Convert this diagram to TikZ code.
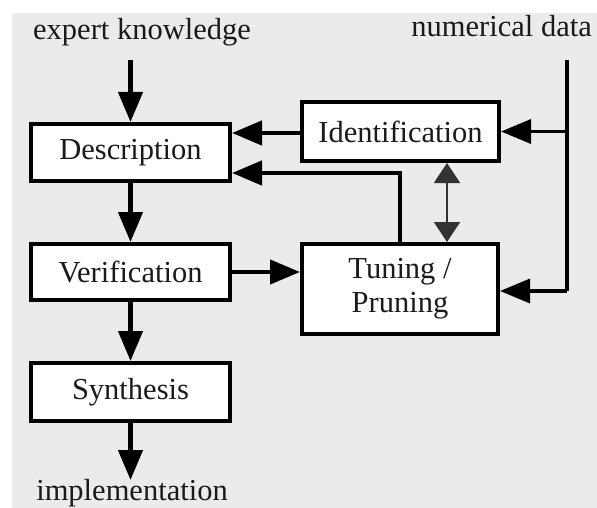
\documentclass[tikz,border=0pt]{standalone}
\usepackage{fontspec}
\setmainfont{Liberation Serif}
\usetikzlibrary{arrows.meta,calc}
\definecolor{bg}{HTML}{EBEBEB}
\definecolor{ink}{HTML}{1A1A1A}
\begin{document}
\begin{tikzpicture}[x=1pt,y=-1pt,
  box/.style={draw=black,line width=4pt,fill=white,text=ink,align=center,
    font=\fontsize{30.5}{34}\selectfont,inner sep=0pt},
  lbl/.style={text=ink,font=\fontsize{30.5}{34}\selectfont,inner sep=0pt},
  conn/.style={line width=4.5pt,draw=black,-{Triangle[length=30pt,width=24pt]}},
  thin/.style={line width=3.5pt,draw=black},
  dbl/.style={line width=2pt,draw=black!80,{Triangle[length=20pt,width=26pt]}-{Triangle[length=20pt,width=26pt]}}]
\useasboundingbox (0,0) rectangle (597,508);
\fill[white] (0,0) rectangle (597,508);
\fill[bg] (12,13) rectangle (597,508);

\node[box,minimum width=199pt,minimum height=57pt] (desc) at (130.5,152.5) {Description};
\node[box,minimum width=199pt,minimum height=56pt] (veri) at (130.5,272) {Verification};
\node[box,minimum width=199pt,minimum height=58pt] (synt) at (130.5,392) {Synthesis};
\node[box,minimum width=197pt,minimum height=59pt] (iden) at (400.5,131.5) {Identification};
\node[box,minimum width=196pt,minimum height=90pt] (tune) at (400,289) {Tuning /\\Pruning};

\node[lbl,anchor=base] (ek) at (142,40) {expert knowledge};
\node[lbl,anchor=base east] (nd) at (592,37) {numerical data};
\node[lbl,anchor=base] (impl) at (132,500) {implementation};

\coordinate (ekstart) at (130.5,60);
\coordinate (ndstart) at (567,60);
\coordinate (implend) at (130.5,480);
\coordinate (fb) at (0,173);
\coordinate (dx) at (447,0);

\draw[conn] (ekstart) -- (desc.north);
\draw[conn] (desc.south) -- (veri.north);
\draw[conn] (veri.south) -- (synt.north);
\draw[conn] (synt.south) -- (implend);
\draw[conn] (iden.west |- 0,133) -- (desc.east |- 0,133);
\draw[conn] (tune.north) |- (desc.east |- fb);
\draw[conn] (veri.east) -- (veri.east -| tune.west);
\draw[dbl] (iden.south -| dx) -- (tune.north -| dx);
\draw[thin] (ndstart) -- (ndstart |- 0,291);
\draw[conn,line width=3.5pt] (ndstart |- 0,291) -- (tune.east |- 0,291);
\draw[conn,line width=3.5pt] (ndstart |- iden.east) -- (iden.east);
\end{tikzpicture}
\end{document}
